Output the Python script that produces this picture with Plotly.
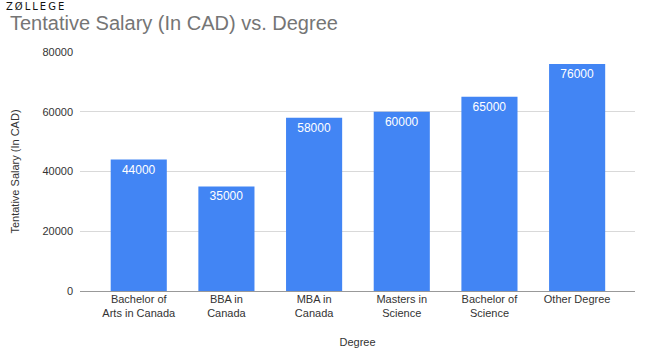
import plotly.graph_objects as go

categories = ["Bachelor of<br>Arts in Canada", "BBA in<br>Canada", "MBA in<br>Canada",
              "Masters in<br>Science", "Bachelor of<br>Science", "Other Degree"]
salaries = [44000, 35000, 58000, 60000, 65000, 76000]
tick_vals = [0, 20000, 40000, 60000, 80000]

fig = go.Figure(go.Bar(
    x=list(range(len(categories))), y=salaries,
    marker=dict(color="#4285F4", line=dict(width=0)),
    width=0.64,
    text=[str(v) for v in salaries],
    textposition="inside", insidetextanchor="end",
    textfont=dict(color="white", size=12, family="Liberation Sans, Arial"),
    textangle=0,
))

fig.update_layout(
    width=652, height=355,
    margin=dict(l=80, r=17, t=52, b=64),
    paper_bgcolor="white", plot_bgcolor="white",
    font=dict(family="Liberation Sans, Arial", color="#333"),
    showlegend=False,
    xaxis=dict(
        tickmode="array", tickvals=list(range(len(categories))), ticktext=categories,
        range=[-0.67, 5.66], showgrid=False, ticks="", automargin=False,
        tickfont=dict(size=11, color="#333"),
        title=dict(text="Degree", font=dict(size=11, color="#333"), standoff=20),
    ),
    yaxis=dict(
        range=[0, 80000], tickvals=tick_vals, tickformat="d", showgrid=True, gridcolor="#d9d9d9",
        zeroline=True, zerolinecolor="#999", zerolinewidth=1, automargin=False,
        tickfont=dict(size=11, color="#333"), ticks="", ticklabelstandoff=6,
        title=dict(text="Tentative Salary (In CAD)", font=dict(size=11, color="#333"), standoff=20),
    ),
)
fig.add_annotation(text="Tentative Salary (In CAD) vs. Degree", xref="paper", yref="paper",
                   x=-72/555, y=1 + 29/239, xanchor="left", yanchor="middle", showarrow=False,
                   font=dict(size=20, color="#757575", family="Liberation Sans, Arial"))
fig.add_annotation(text="Z\u2009\u00d8\u2009L\u2009L\u2009E\u2009G\u2009E", xref="paper", yref="paper",
                   x=-76/555, y=1 + 46/239, xanchor="left", yanchor="middle", showarrow=False,
                   font=dict(size=10, color="#111", family="DejaVu Sans"))

fig.write_html("out.html")
